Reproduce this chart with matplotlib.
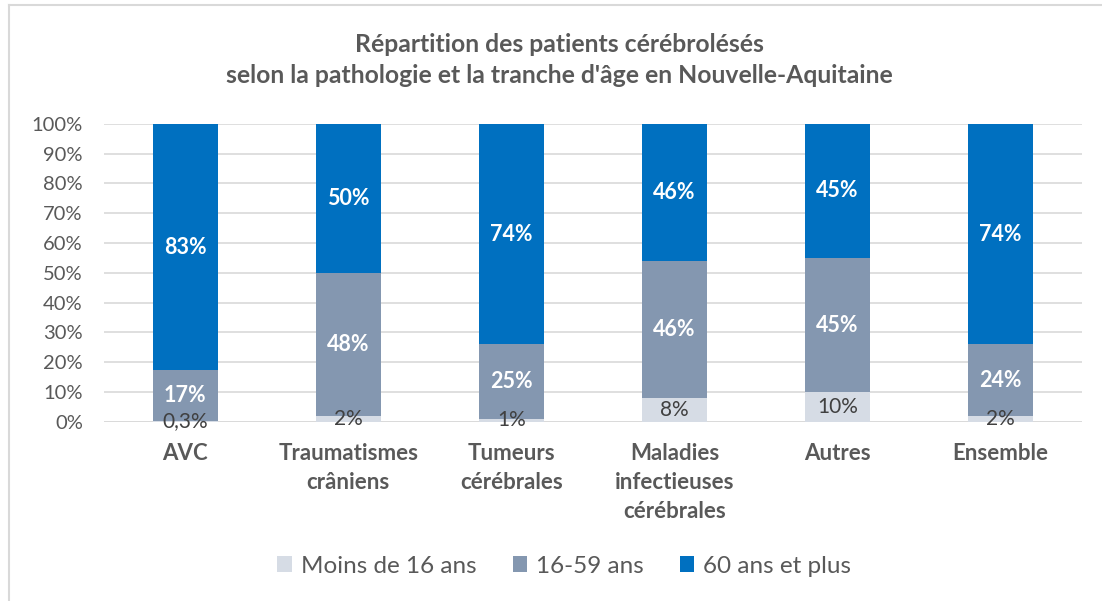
import matplotlib
matplotlib.use("Agg")
import matplotlib.pyplot as plt
from matplotlib.lines import Line2D
import numpy as np

categories = ["AVC", "Traumatismes\ncrâniens", "Tumeurs\ncérébrales",
              "Maladies\ninfectieuses\ncérébrales", "Autres", "Ensemble"]
series_names = ["Moins de 16 ans", "16-59 ans", "60 ans et plus"]
moins16 = [0.3, 2, 1, 8, 10, 2]
age16_59 = [17, 48, 25, 46, 45, 24]
plus60 = [83, 50, 74, 46, 45, 74]
labels_moins16 = ["0,3%", "2%", "1%", "8%", "10%", "2%"]
labels_16_59 = ["17%", "48%", "25%", "46%", "45%", "24%"]
labels_plus60 = ["83%", "50%", "74%", "46%", "45%", "74%"]
yticks = [0, 10, 20, 30, 40, 50, 60, 70, 80, 90, 100]
title = "Répartition des patients cérébrolésés\nselon la pathologie et la tranche d'âge en Nouvelle-Aquitaine"

colors = ["#D6DCE5", "#8497B0", "#0070C0"]
FONT = ["Lato", "DejaVu Sans"]
plt.rcParams['font.family'] = FONT

data = np.array([moins16, age16_59, plus60], dtype=float)
shares = data / data.sum(axis=0) * 100

fig = plt.figure(figsize=(11.02, 6.01), dpi=100)
ax = fig.add_axes([0.094, 0.298, 0.888, 0.496])
x = np.arange(len(categories))
bottom = np.zeros(len(categories))
all_labels = [labels_moins16, labels_16_59, labels_plus60]
for i in range(3):
    ax.bar(x, shares[i], 0.4, bottom=bottom, color=colors[i], label=series_names[i], zorder=2)
    for j in range(len(categories)):
        yc = bottom[j] + shares[i][j] / 2
        if i == 0:
            ax.text(x[j], yc, all_labels[i][j], ha="center", va="center",
                    fontsize=15, color="#404040", zorder=3)
        else:
            ax.text(x[j], yc, all_labels[i][j], ha="center", va="center",
                    fontsize=15.5, color="white", fontweight="bold", zorder=3)
    bottom += shares[i]

ax.set_xlim(-0.5, len(categories) - 0.5)
ax.set_ylim(0, 100)
ax.set_yticks(yticks)
ax.set_yticklabels([f"{t}%" for t in yticks], fontsize=14.5, color="#595959")
ax.set_xticks(x)
ax.set_xticklabels(categories, fontsize=16, color="#595959", fontweight="bold", linespacing=1.47)
ax.tick_params(axis="x", length=0, pad=15)
ax.tick_params(axis="y", length=0, pad=15)
ax.grid(axis="y", color="#D9D9D9", linewidth=1.2, zorder=0)
for s in ax.spines.values():
    s.set_visible(False)
ax.axhline(0, color="#D9D9D9", linewidth=1.2, zorder=1)

fig.text(0.508, 0.90, title, ha="center", va="center", fontsize=17.8, fontweight="bold",
         color="#595959", linespacing=1.4)

leg = fig.legend(loc="center", bbox_to_anchor=(0.512, 0.058), ncol=3, frameon=False,
                 fontsize=17.5, handlelength=0.6, handleheight=0.6, columnspacing=1.5,
                 handletextpad=0.35)
for t in leg.get_texts():
    t.set_color("#595959")

fig.add_artist(Line2D([0.0085, 0.0085], [0, 0.992], transform=fig.transFigure, color="#D9D9D9", linewidth=1.5))
fig.add_artist(Line2D([0.0085, 1.0], [0.992, 0.992], transform=fig.transFigure, color="#D9D9D9", linewidth=1.5))

fig.savefig("out.png", dpi=100, facecolor="white")
